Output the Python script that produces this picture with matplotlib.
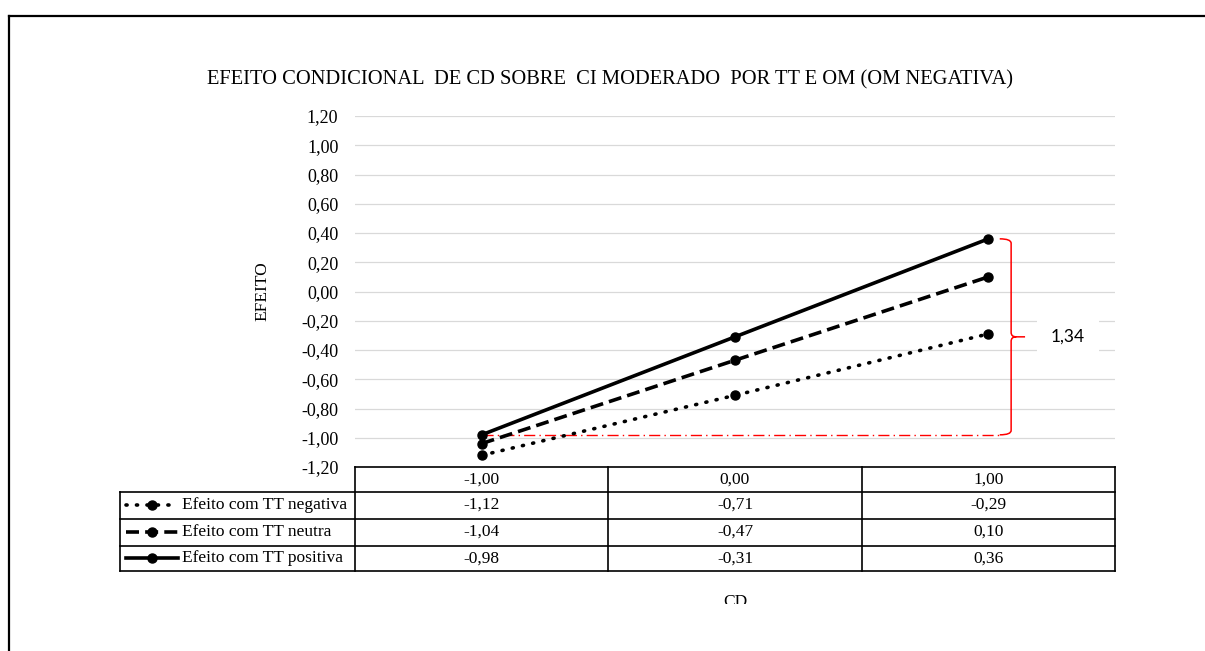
import matplotlib
matplotlib.use('Agg')
import matplotlib.pyplot as plt
from matplotlib.path import Path
from matplotlib.patches import PathPatch
from matplotlib.lines import Line2D
from matplotlib.transforms import Bbox

# data
cd_values = [-1.00, 0.00, 1.00]
tt_negativa = [-1.12, -0.71, -0.29]
tt_neutra = [-1.04, -0.47, 0.10]
tt_positiva = [-0.98, -0.31, 0.36]
series_names = ['Efeito com TT negativa', 'Efeito com TT neutra', 'Efeito com TT positiva']
y_ticks = [-1.20, -1.00, -0.80, -0.60, -0.40, -0.20, 0.00, 0.20, 0.40, 0.60, 0.80, 1.00, 1.20]

W, H = 1205, 651
SERIF = 'Liberation Serif'
FS = 12.5


def fmt(v):
    return f'{v:.2f}'.replace('.', ',').replace('-0,00', '0,00')


fig = plt.figure(figsize=(W / 100, H / 100), dpi=100)

# outer frame (top and left only, rest is cut off)
fig.add_artist(Line2D([9 / W, 1], [1 - 16 / H, 1 - 16 / H], color='black', lw=1.6))
fig.add_artist(Line2D([9 / W, 9 / W], [0, 1 - 16 / H], color='black', lw=1.6))

ax = fig.add_axes([355 / W, 1 - 467 / H, 760 / W, 351 / H])
x = list(range(len(cd_values)))

styles = [
    dict(ls=(0, (0.3, 2.6)), dash_capstyle='round'),
    dict(ls=(0, (3.6, 1.7))),
    dict(ls='-'),
]
series = [tt_negativa, tt_neutra, tt_positiva]
for vals, st in zip(series, styles):
    ax.plot(x, vals, color='black', lw=2.6, marker='o', ms=6.5, zorder=3, **st)

# red bracket showing the spread between -1 and +1 of TT positiva
y_top, y_bot = tt_positiva[-1], tt_positiva[0]
ax.plot([0, 2.05], [y_bot, y_bot], color='red', lw=1.0, ls=(0, (8, 3, 1, 3)), zorder=2)
xs, xb, xt = 2.045, 2.09, 2.145
ym = (y_top + y_bot) / 2
ry = 0.03
verts = [(xs, y_top), (xb, y_top), (xb, y_top - ry),
         (xb, ym + ry), (xb, ym), (xb + 0.02, ym), (xt, ym),
         (xb + 0.02, ym), (xb, ym), (xb, ym - ry),
         (xb, y_bot + ry), (xb, y_bot), (xs, y_bot)]
codes = [Path.MOVETO, Path.CURVE3, Path.CURVE3,
         Path.LINETO, Path.CURVE3, Path.CURVE3, Path.LINETO,
         Path.MOVETO, Path.CURVE3, Path.CURVE3,
         Path.LINETO, Path.CURVE3, Path.CURVE3]
ax.add_patch(PathPatch(Path(verts, codes), fill=False, edgecolor='red', lw=1.1, clip_on=False))
ax.text(2.315, ym, fmt(y_top - y_bot), ha='center', va='center', fontsize=12.5,
        family='Lato', bbox=dict(facecolor='white', edgecolor='none', pad=10), clip_on=False)

ax.set_xlim(-0.5, 2.5)
ax.set_ylim(-1.2, 1.2)
ax.set_yticks(y_ticks)
ax.set_yticklabels([fmt(v) for v in y_ticks], family=SERIF, fontsize=13)
ax.tick_params(axis='y', length=0, pad=12)
ax.set_xticks([])
ax.yaxis.grid(True, color='#d9d9d9', lw=0.9)
ax.set_axisbelow(True)
for s in ax.spines.values():
    s.set_visible(False)

fig.text(262 / W, 1 - 291 / H, 'EFEITO', rotation=90, ha='center', va='center',
         family=SERIF, fontsize=FS)
fig.text(610 / W, 1 - 80 / H, 'EFEITO CONDICIONAL  DE CD SOBRE  CI MODERADO  POR TT E OM (OM NEGATIVA)',
         ha='center', va='center', family=SERIF, fontsize=14.8)

# data table under the plot
tax = fig.add_axes([355 / W, 1 - 571 / H, 760 / W, 104 / H])
tax.set_xlim(-0.5, 2.5)
tax.set_ylim(104, 0)
tax.axis('off')
unit = 760 / 3
x_left = -0.5 - 235 / unit
rows = [0, 24.5, 51.5, 78.5, 104]
lk = dict(color='black', lw=1.2, clip_on=False, solid_capstyle='projecting')
tax.plot([-0.5, 2.5], [rows[0], rows[0]], **lk)
for r in rows[1:]:
    tax.plot([x_left, 2.5], [r, r], **lk)
tax.plot([x_left, x_left], [rows[1], rows[-1]], **lk)
for c in [-0.5, 0.5, 1.5, 2.5]:
    tax.plot([c, c], [rows[0], rows[-1]], **lk)

for i, v in enumerate(cd_values):
    tax.text(i, (rows[0] + rows[1]) / 2, fmt(v), ha='center', va='center', family=SERIF, fontsize=FS)
for k, (name, vals, st) in enumerate(zip(series_names, series, styles)):
    yc = (rows[k + 1] + rows[k + 2]) / 2
    tax.plot([x_left + 6 / unit, x_left + 58 / unit], [yc, yc], color='black', lw=2.6,
             clip_on=False, **st)
    tax.plot([x_left + 32 / unit], [yc], color='black', marker='o', ms=6.5, clip_on=False)
    tax.text(x_left + 62 / unit, yc, name, ha='left', va='center', family=SERIF, fontsize=FS)
    for i, v in enumerate(vals):
        tax.text(i, yc, fmt(v), ha='center', va='center', family=SERIF, fontsize=FS)

# x axis title, cut off at the bottom like in the source
t = fig.text(735 / W, 1 - 606 / H, 'CD', ha='center', va='baseline', family=SERIF, fontsize=FS)
t.set_clip_box(Bbox.from_extents(0, H - 604, W, H))
t.set_clip_on(True)

fig.savefig('out.png', dpi=100)
